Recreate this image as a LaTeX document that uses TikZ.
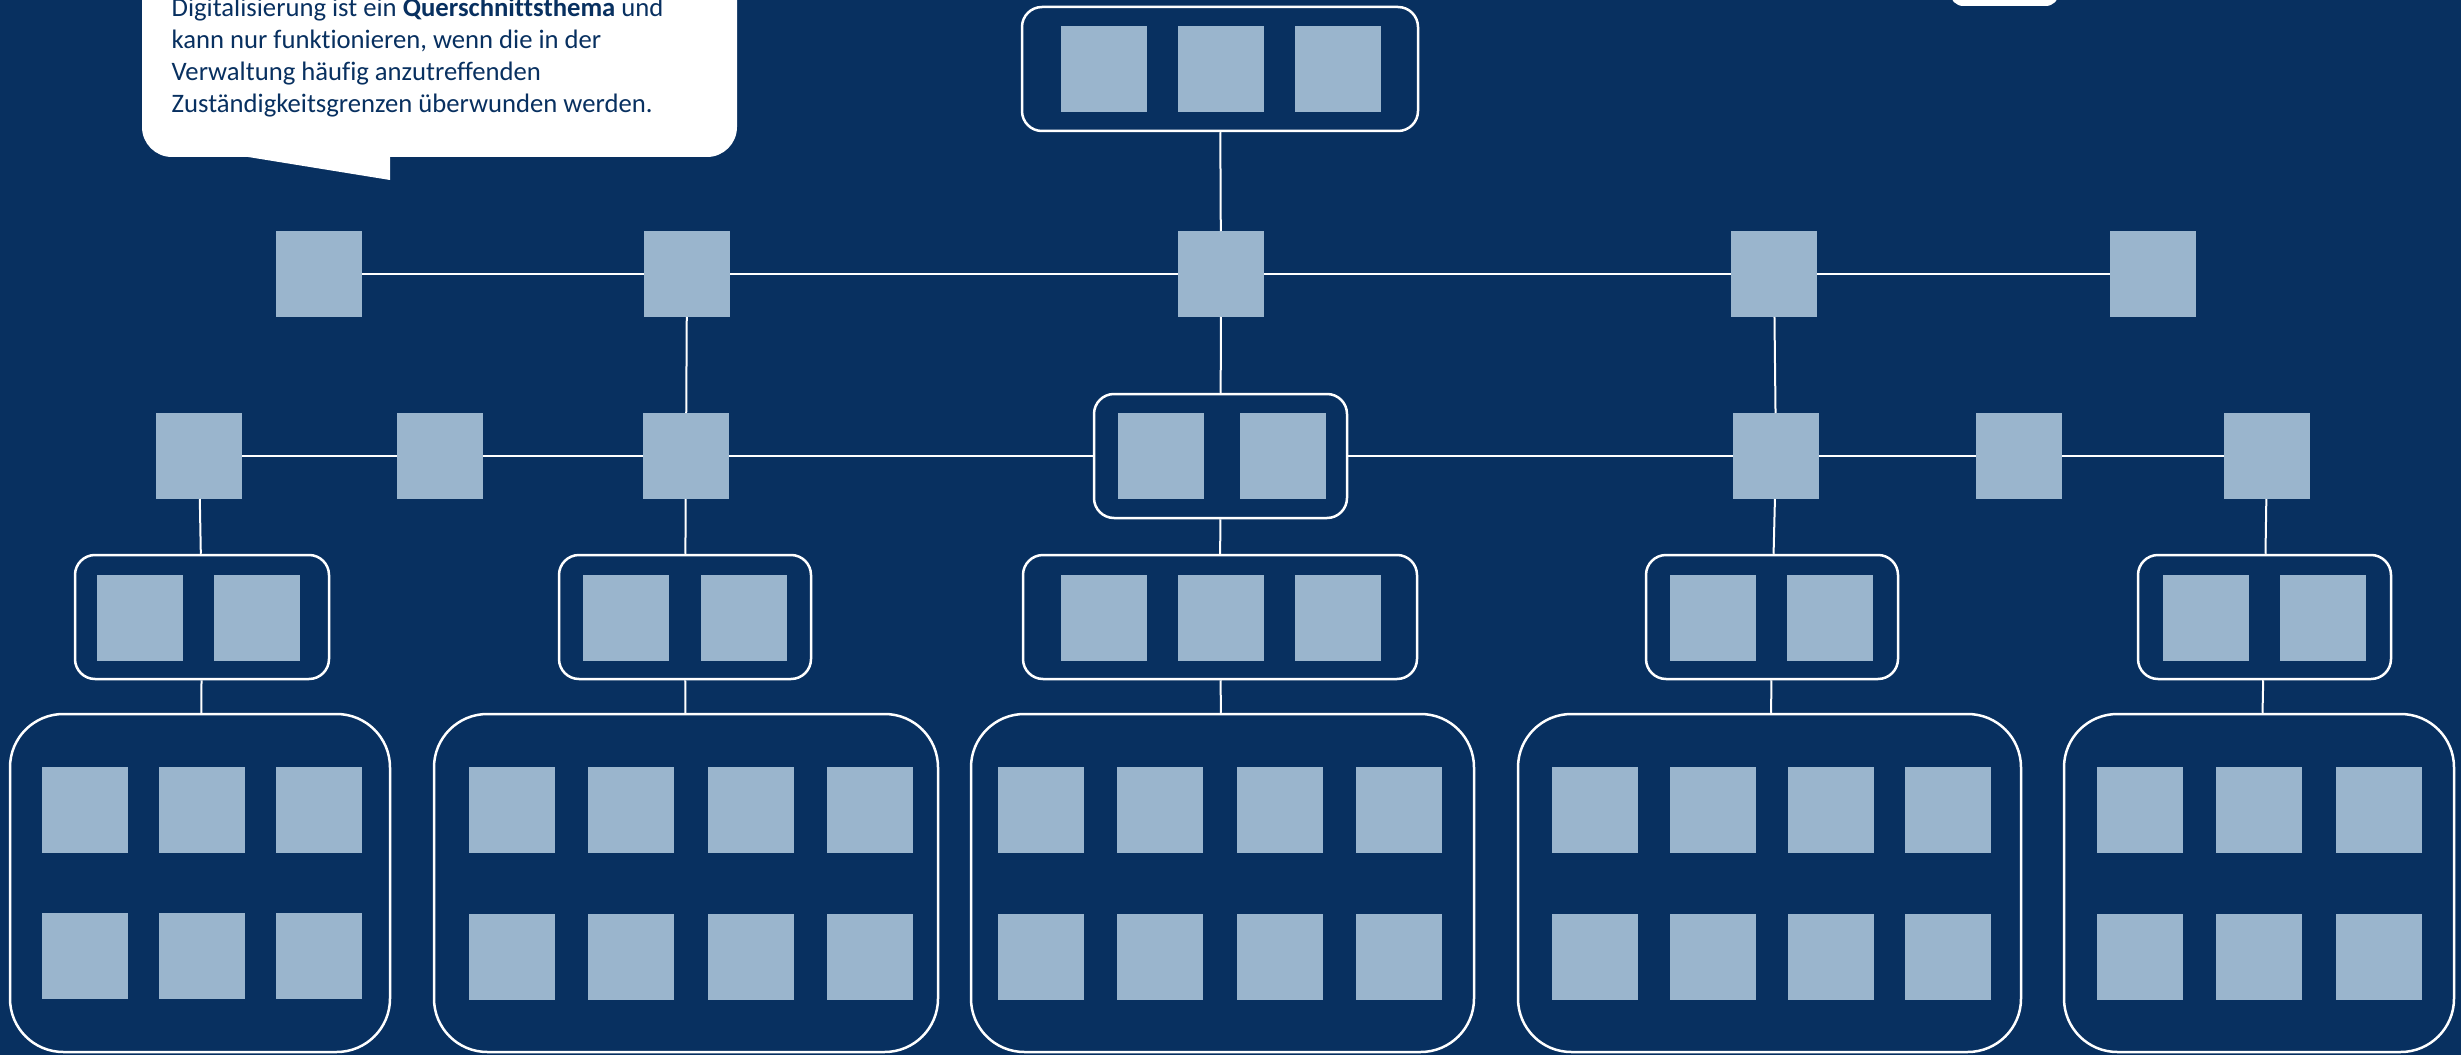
\documentclass[tikz,border=0pt]{standalone}
\usepackage{fontspec}
\setmainfont{Carlito}[Ligatures=NoCommon]
\definecolor{bg}{RGB}{8,48,96}
\definecolor{sqc}{RGB}{154,181,205}
\begin{document}
\begin{tikzpicture}[x=0.3pt,y=-0.3pt,
 sq/.style={fill=sqc,draw=none,minimum size=25.8pt,inner sep=0pt,outer sep=0pt},
 grp/.style={draw=white,line width=0.75pt,rounded corners=6pt,inner sep=0pt,minimum height=37.2pt},
 big/.style={draw=white,line width=0.75pt,rounded corners=16pt,inner sep=0pt,minimum height=101.4pt},
 conn/.style={draw=white,line width=0.6pt},
 txt/.style={anchor=base west,inner sep=0pt,text=bg,font=\fontsize{8}{9.6}\selectfont}]
\fill[bg] (0,0) rectangle (2461,1055);
\useasboundingbox (0,0) rectangle (2461,1055);

% callout
\fill[white,rounded corners=9pt] (142,-60) rectangle (737,157);
\fill[white] (242,156) -- (390,180) -- (390,156) -- cycle;
\node[txt] (t1) at (171,17) {Digitalisierung ist ein \textbf{Querschnittsthema} und};
\node[txt] (t2) at (171,49) {kann nur funktionieren, wenn die in der};
\node[txt] (t3) at (171,81) {Verwaltung häufig anzutreffenden};
\node[txt] (t4) at (171,113) {Zuständigkeitsgrenzen überwunden werden.};

% top-right white shape
\fill[white,rounded corners=4pt] (1950,-30) rectangle (2059,6);

% top group
\node[grp,minimum width=118.8pt] (top) at (1220,69) {};
\node[sq] at (1104,69) {};
\node[sq] at (1221,69) {};
\node[sq] at (1338,69) {};

% row 1
\node[sq] (a1) at (319,274) {};
\node[sq] (a2) at (687,274) {};
\node[sq] (a3) at (1221,274) {};
\node[sq] (a4) at (1774,274) {};
\node[sq] (a5) at (2153,274) {};

% row 2
\node[sq] (b1) at (199,456) {};
\node[sq] (b2) at (440,456) {};
\node[sq] (b3) at (686,456) {};
\node[grp,minimum width=75.9pt] (bg) at (1220.5,456) {};
\node[sq] at (1161,456) {};
\node[sq] at (1283,456) {};
\node[sq] (b5) at (1776,456) {};
\node[sq] (b6) at (2019,456) {};
\node[sq] (b7) at (2267,456) {};

% row 3 groups
\node[grp,minimum width=76.2pt] (g1) at (202,617) {};
\node[sq] at (140,618) {};
\node[sq] at (257,618) {};
\node[grp,minimum width=75.6pt] (g2) at (685,617) {};
\node[sq] at (626,618) {};
\node[sq] at (744,618) {};
\node[grp,minimum width=118.2pt] (g3) at (1220,617) {};
\node[sq] at (1104,618) {};
\node[sq] at (1221,618) {};
\node[sq] at (1338,618) {};
\node[grp,minimum width=75.6pt] (g4) at (1772,617) {};
\node[sq] at (1713,618) {};
\node[sq] at (1830,618) {};
\node[grp,minimum width=75.9pt] (g5) at (2264.5,617) {};
\node[sq] at (2206,618) {};
\node[sq] at (2323,618) {};

% bottom big boxes
\node[big,minimum width=114pt] (B1) at (200,883) {};
\foreach \x in {85,202,319} {\node[sq] at (\x,810) {}; \node[sq] at (\x,956) {};}
\node[big,minimum width=151.2pt] (B2) at (686,883) {};
\foreach \x in {512,631,751,870} {\node[sq] at (\x,810) {}; \node[sq] at (\x,957) {};}
\node[big,minimum width=150.9pt] (B3) at (1222.5,883) {};
\foreach \x in {1041,1160,1280,1399} {\node[sq] at (\x,810) {}; \node[sq] at (\x,957) {};}
\node[big,minimum width=150.9pt] (B4) at (1769.5,883) {};
\foreach \x in {1595,1713,1831,1948} {\node[sq] at (\x,810) {}; \node[sq] at (\x,957) {};}
\node[big,minimum width=117pt] (B5) at (2259,883) {};
\foreach \x in {2140,2259,2379} {\node[sq] at (\x,810) {}; \node[sq] at (\x,957) {};}

% connectors
\draw[conn] (top) -- (a3);
\draw[conn] (a1) -- (a2);
\draw[conn] (a2) -- (a3);
\draw[conn] (a3) -- (a4);
\draw[conn] (a4) -- (a5);
\draw[conn] (a2) -- (b3);
\draw[conn] (a3) -- (bg);
\draw[conn] (a4) -- (b5);
\draw[conn] (b1) -- (b2);
\draw[conn] (b2) -- (b3);
\draw[conn] (b3) -- (bg);
\draw[conn] (bg) -- (b5);
\draw[conn] (b5) -- (b6);
\draw[conn] (b6) -- (b7);
\draw[conn] (b1) -- (g1);
\draw[conn] (b3) -- (g2);
\draw[conn] (bg) -- (g3);
\draw[conn] (b5) -- (g4);
\draw[conn] (b7) -- (g5);
\draw[conn] (g1) -- (B1);
\draw[conn] (g2) -- (B2);
\draw[conn] (g3) -- (B3);
\draw[conn] (g4) -- (B4);
\draw[conn] (g5) -- (B5);
\end{tikzpicture}
\end{document}
